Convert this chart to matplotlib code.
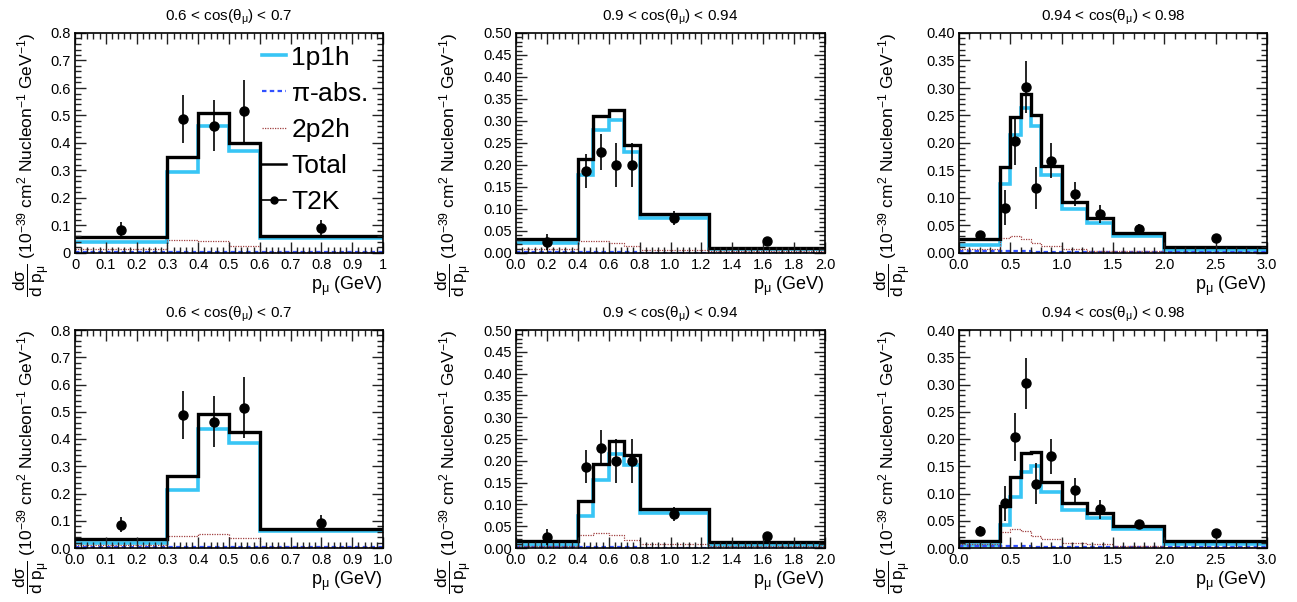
import matplotlib
matplotlib.use("Agg")
import matplotlib.pyplot as plt
from matplotlib.lines import Line2D
from matplotlib.ticker import MultipleLocator, FormatStrFormatter

plt.rcParams["font.family"] = ["Liberation Sans", "DejaVu Sans"]
plt.rcParams["mathtext.fontset"] = "custom"
plt.rcParams["mathtext.rm"] = "Liberation Sans"
plt.rcParams["mathtext.it"] = "Liberation Sans:italic"
plt.rcParams["mathtext.default"] = "regular"

# ---------------------------------------------------
# Data
# ---------------------------------------------------

titles = [
    r"0.6 < cos($\theta_{\mu}$) < 0.7",
    r"0.9 < cos($\theta_{\mu}$) < 0.94",
    r"0.94 < cos($\theta_{\mu}$) < 0.98",
]

edges_a = [0.0, 0.3, 0.4, 0.5, 0.6, 1.0]
edges_b = [0.0, 0.4, 0.5, 0.6, 0.7, 0.8, 1.25, 2.0]
edges_c = [0.0, 0.4, 0.5, 0.6, 0.7, 0.8, 1.0, 1.25, 1.5, 2.0, 3.0]

# T2K data points
t2k_x_a = [0.15, 0.35, 0.45, 0.55, 0.8]
t2k_y_a = [0.085, 0.487, 0.463, 0.515, 0.091]
t2k_e_a = [0.027, 0.088, 0.093, 0.113, 0.030]

t2k_x_b = [0.2, 0.45, 0.55, 0.65, 0.75, 1.025, 1.625]
t2k_y_b = [0.025, 0.186, 0.230, 0.200, 0.200, 0.079, 0.027]
t2k_e_b = [0.018, 0.038, 0.041, 0.050, 0.050, 0.016, 0.004]

t2k_x_c = [0.2, 0.45, 0.55, 0.65, 0.75, 0.9, 1.125, 1.375, 1.75, 2.5]
t2k_y_c = [0.032, 0.082, 0.204, 0.302, 0.118, 0.168, 0.107, 0.071, 0.044, 0.028]
t2k_e_c = [0.008, 0.032, 0.044, 0.047, 0.038, 0.032, 0.022, 0.017, 0.008, 0.004]

# top row model
top_tot_a = [0.057, 0.350, 0.510, 0.400, 0.060]
top_qe_a = [0.040, 0.295, 0.460, 0.370, 0.055]
top_2p2h_a = [0.013, 0.048, 0.045, 0.027, 0.003]
top_pi_a = [0.003, 0.003, 0.003, 0.003, 0.002]

top_tot_b = [0.032, 0.213, 0.311, 0.326, 0.246, 0.088, 0.012]
top_qe_b = [0.022, 0.178, 0.279, 0.302, 0.229, 0.079, 0.008]
top_2p2h_b = [0.009, 0.028, 0.027, 0.022, 0.015, 0.007, 0.004]
top_pi_b = [0.002, 0.002, 0.002, 0.002, 0.002, 0.001, 0.001]

top_tot_c = [0.025, 0.157, 0.248, 0.290, 0.250, 0.158, 0.092, 0.063, 0.036, 0.010]
top_qe_c = [0.014, 0.125, 0.215, 0.263, 0.230, 0.142, 0.080, 0.055, 0.030, 0.006]
top_2p2h_c = [0.008, 0.027, 0.031, 0.025, 0.018, 0.012, 0.007, 0.004, 0.003, 0.001]
top_pi_c = [0.003, 0.003, 0.003, 0.003, 0.002, 0.002, 0.002, 0.001, 0.001, 0.001]

# bottom row model
bot_tot_a = [0.033, 0.265, 0.493, 0.425, 0.068]
bot_qe_a = [0.018, 0.213, 0.437, 0.385, 0.062]
bot_2p2h_a = [0.010, 0.045, 0.052, 0.038, 0.003]
bot_pi_a = [0.003, 0.003, 0.003, 0.003, 0.002]

bot_tot_b = [0.016, 0.107, 0.193, 0.245, 0.214, 0.090, 0.013]
bot_qe_b = [0.008, 0.073, 0.156, 0.215, 0.190, 0.080, 0.008]
bot_2p2h_b = [0.005, 0.030, 0.034, 0.029, 0.018, 0.009, 0.004]
bot_pi_b = [0.002, 0.002, 0.002, 0.002, 0.002, 0.001, 0.001]

bot_tot_c = [0.013, 0.077, 0.131, 0.175, 0.176, 0.121, 0.082, 0.065, 0.040, 0.012]
bot_qe_c = [0.005, 0.042, 0.093, 0.140, 0.150, 0.103, 0.069, 0.055, 0.034, 0.008]
bot_2p2h_c = [0.008, 0.030, 0.035, 0.031, 0.022, 0.016, 0.010, 0.007, 0.004, 0.002]
bot_pi_c = [0.003, 0.003, 0.003, 0.003, 0.002, 0.002, 0.002, 0.001, 0.001, 0.001]

# ---------------------------------------------------
# Figure layout
# ---------------------------------------------------

W, H = 1297, 602
fig = plt.figure(figsize=(W / 100, H / 100), dpi=100)

col_left = [75, 516, 959]
col_right = [383, 825, 1267]
row_top = [33, 330]
row_bot = [253, 548]
ylab_x = [-0.075, -0.135, -0.15]

C_QE = "#38c5f5"
C_PI = "#3050ff"
C_2P2H = "#a04040"

panels = [
    # (row, col, edges, tot, qe, 2p2h, pi, data, xlim, ylim, xmaj, xmin, ymaj, ymin, xfmt, yfmt)
    (0, 0, edges_a, top_tot_a, top_qe_a, top_2p2h_a, top_pi_a,
     (t2k_x_a, t2k_y_a, t2k_e_a), 1.0, 0.8, 0.1, 0.02, 0.1, 0.02, "%g", "%g"),
    (0, 1, edges_b, top_tot_b, top_qe_b, top_2p2h_b, top_pi_b,
     (t2k_x_b, t2k_y_b, t2k_e_b), 2.0, 0.5, 0.2, 0.04, 0.05, 0.01, "%.1f", "%.2f"),
    (0, 2, edges_c, top_tot_c, top_qe_c, top_2p2h_c, top_pi_c,
     (t2k_x_c, t2k_y_c, t2k_e_c), 3.0, 0.4, 0.5, 0.1, 0.05, 0.01, "%.1f", "%.2f"),
    (1, 0, edges_a, bot_tot_a, bot_qe_a, bot_2p2h_a, bot_pi_a,
     (t2k_x_a, t2k_y_a, t2k_e_a), 1.0, 0.8, 0.1, 0.02, 0.1, 0.02, "%.1f", "%.1f"),
    (1, 1, edges_b, bot_tot_b, bot_qe_b, bot_2p2h_b, bot_pi_b,
     (t2k_x_b, t2k_y_b, t2k_e_b), 2.0, 0.5, 0.2, 0.04, 0.05, 0.01, "%.1f", "%.2f"),
    (1, 2, edges_c, bot_tot_c, bot_qe_c, bot_2p2h_c, bot_pi_c,
     (t2k_x_c, t2k_y_c, t2k_e_c), 3.0, 0.4, 0.5, 0.1, 0.05, 0.01, "%.1f", "%.2f"),
]

ylabel = (r"$\dfrac{d\sigma}{d\ p_{\mu}}$ (10$^{-39}$ cm$^{2}$ "
          r"Nucleon$^{-1}$ GeV$^{-1}$)")

for (r, c, edges, tot, qe, p2h, pi, data, xmax, ymax,
     xmaj, xmin, ymaj, ymin, xfmt, yfmt) in panels:

    left = col_left[c] / W
    width = (col_right[c] - col_left[c]) / W
    bottom = 1 - row_bot[r] / H
    height = (row_bot[r] - row_top[r]) / H
    ax = fig.add_axes([left, bottom, width, height])

    ax.stairs(qe, edges, baseline=None, color=C_QE, lw=2.6)
    ax.stairs(pi, edges, baseline=None, color=C_PI, lw=1.6, ls=(0, (2, 1.5)))
    ax.stairs(p2h, edges, baseline=None, color=C_2P2H, lw=0.9, ls=(0, (1, 1)))
    ax.stairs(tot, edges, baseline=None, color="black", lw=2.4)

    dx, dy, de = data
    ax.errorbar(dx, dy, yerr=de, fmt="o", color="black", ms=6.5,
                elinewidth=1.2, capsize=0)

    ax.set_xlim(0, xmax)
    ax.set_ylim(0, ymax)

    ax.xaxis.set_major_locator(MultipleLocator(xmaj))
    ax.xaxis.set_minor_locator(MultipleLocator(xmin))
    ax.yaxis.set_major_locator(MultipleLocator(ymaj))
    ax.yaxis.set_minor_locator(MultipleLocator(ymin))
    ax.xaxis.set_major_formatter(FormatStrFormatter(xfmt))
    ax.yaxis.set_major_formatter(FormatStrFormatter(yfmt))

    ax.tick_params(which="both", direction="in", top=True, right=True,
                   labelsize=10.5, width=1, color="#222222")
    ax.tick_params(which="major", length=8)
    ax.tick_params(which="minor", length=4)
    ax.tick_params(axis="y", pad=3)
    for s in ax.spines.values():
        s.set_linewidth(1.2)

    ax.set_title(titles[c], fontsize=11, pad=9)
    ax.set_xlabel(r"p$_{\mu}$ (GeV)", fontsize=13, loc="right", labelpad=2)
    ax.set_ylabel(ylabel, fontsize=12.5, loc="top")
    ax.yaxis.set_label_coords(ylab_x[c], 1.0)

    if r == 0 and c == 0:
        handles = [
            Line2D([], [], color=C_QE, lw=2.6),
            Line2D([], [], color=C_PI, lw=1.6, ls=(0, (2, 1.5))),
            Line2D([], [], color=C_2P2H, lw=0.9, ls=(0, (1, 1))),
            Line2D([], [], color="black", lw=1.8),
            Line2D([], [], color="black", lw=1.2, marker="o", ms=5),
        ]
        labels = ["1p1h", r"$\pi$-abs.", "2p2h", "Total", "T2K"]
        ax.legend(handles, labels, loc="upper left",
                  bbox_to_anchor=(0.6, 0.955), frameon=False, fontsize=19,
                  handlelength=0.9, handletextpad=0.2, labelspacing=0.46,
                  borderpad=0.1, borderaxespad=0.0)

fig.savefig("out.png", dpi=100)
